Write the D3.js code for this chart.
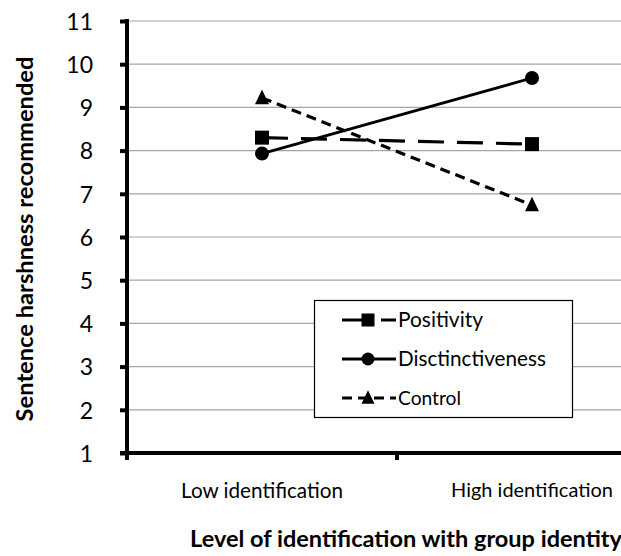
<!DOCTYPE html>
<html><head><meta charset="utf-8">
<script src="https://cdn.jsdelivr.net/npm/d3@7"></script>
<style>body{margin:0;background:#fff}svg{display:block}text{font-family:Lato,"Open Sans",sans-serif;fill:#000}</style>
</head><body>
<svg id="c" width="621" height="556"></svg>
<script>
const categories = ["Low identification", "High identification"];
const seriesNames = ["Positivity", "Disctinctiveness", "Control"];
const positivity = [8.30, 8.15];
const distinctiveness = [7.93, 9.68];
const control = [9.22, 6.74];
const yTicks = [1,2,3,4,5,6,7,8,9,10,11];
const yTitle = "Sentence harshness recommended";
const xTitle = "Level of identification with group identity";

const series = [
  {name: seriesNames[0], values: positivity, dash: "26,13", shape: "square", w: 3.2},
  {name: seriesNames[1], values: distinctiveness, dash: null, shape: "circle", w: 2.8},
  {name: seriesNames[2], values: control, dash: "10,6", shape: "triangle", w: 3.2}
];

const svg = d3.select("#c");
const L = 127, R = 667, T = 21, B = 453;
const x = d3.scaleBand().domain(categories).range([L, R]).paddingInner(0).paddingOuter(0);
const y = d3.scaleLinear().domain([1, 11]).range([B, T]);

// fit a text element's font size so its width matches a target width
function fit(sel, target) {
  sel.each(function() {
    const el = d3.select(this);
    const fs = parseFloat(el.attr("font-size"));
    const w = this.getComputedTextLength();
    if (w > 0) el.attr("font-size", (fs * target / w).toFixed(2));
  });
}

// gridlines
svg.append("g").selectAll("line").data(yTicks.filter(d => d > 1)).join("line")
  .attr("x1", L).attr("x2", R).attr("y1", d => y(d)).attr("y2", d => y(d))
  .attr("stroke", "#a6a6a6").attr("stroke-width", 1.2);

// y axis
const yAx = svg.append("g").attr("transform", `translate(${L},0)`)
  .call(d3.axisLeft(y).tickValues(yTicks).tickSize(7).tickPadding(27));
yAx.select(".domain").attr("stroke", "#000").attr("stroke-width", 4).attr("d", `M0,${T-2}V${B+2}`);
yAx.selectAll(".tick line").attr("stroke", "#000").attr("stroke-width", 4);
yAx.selectAll(".tick text").attr("font-size", 23).attr("font-family", "Lato").attr("dy", "0.36em");

// x axis
const xAx = svg.append("g").attr("transform", `translate(0,${B})`)
  .call(d3.axisBottom(x).tickSize(0).tickPadding(30));
xAx.select(".domain").attr("stroke", "#000").attr("stroke-width", 4).attr("d", `M${L-7},0H${R}`);
const xt = xAx.selectAll(".tick text").attr("font-size", 16).attr("font-family", "Lato");
fit(xt, 162);
xAx.append("g").selectAll("line").data([L, x(categories[1])]).join("line")
  .attr("x1", d => d).attr("x2", d => d).attr("y1", 0).attr("y2", 7)
  .attr("stroke", "#000").attr("stroke-width", 4);

const cx = d => x(d) + x.bandwidth() / 2;
const line = d3.line().x((d, i) => cx(categories[i])).y(d => y(d));

function marker(g, shape, px, py, s) {
  if (shape === "square") g.append("rect").attr("x", px - s/2).attr("y", py - s/2).attr("width", s).attr("height", s).attr("fill", "#000");
  else if (shape === "circle") g.append("circle").attr("cx", px).attr("cy", py).attr("r", s/2).attr("fill", "#000");
  else g.append("path").attr("d", `M${px},${py - s*0.6}L${px + s/2},${py + s*0.45}L${px - s/2},${py + s*0.45}Z`).attr("fill", "#000");
}

series.forEach(s => {
  svg.append("path").datum(s.values).attr("d", line).attr("fill", "none")
    .attr("stroke", "#000").attr("stroke-width", s.w)
    .attr("stroke-dasharray", s.dash);
  const g = svg.append("g");
  s.values.forEach((v, i) => marker(g, s.shape, cx(categories[i]), y(v), 14));
});

// legend
const lg = svg.append("g");
lg.append("rect").attr("x", 314.5).attr("y", 300.5).attr("width", 258).attr("height", 117)
  .attr("fill", "#fff").attr("stroke", "#000").attr("stroke-width", 1.2);
const legW = [85, 148, 63];
series.forEach((s, i) => {
  const yy = 320 + i * 39;
  lg.append("line").attr("x1", 342).attr("x2", 396).attr("y1", yy).attr("y2", yy)
    .attr("stroke", "#000").attr("stroke-width", s.w).attr("stroke-dasharray", s.dash);
  marker(lg, s.shape, 368, yy, 13);
  const t = lg.append("text").attr("x", 398).attr("y", yy).attr("dy", "0.35em").attr("font-size", 16).text(s.name);
  fit(t, legW[i]);
});

// axis titles
const yt = svg.append("text").attr("transform", `translate(25,${(T+B)/2 + 2}) rotate(-90)`)
  .attr("dy", "0.35em").attr("text-anchor", "middle").attr("font-weight", "bold").attr("font-size", 16).text(yTitle);
fit(yt, 365);
const tt = svg.append("text").attr("x", (L + R) / 2 + 9).attr("y", 547)
  .attr("text-anchor", "middle").attr("font-weight", "bold").attr("font-size", 17).text(xTitle);
fit(tt, 432);
</script>
</body></html>
